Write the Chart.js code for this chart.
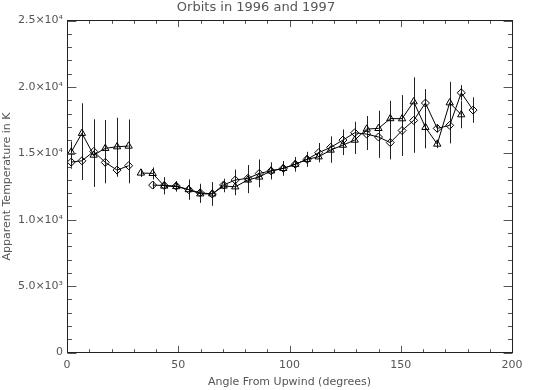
<!DOCTYPE html>
<html><head><meta charset="utf-8">
<script src="https://cdn.jsdelivr.net/npm/chart.js@4/dist/chart.umd.min.js"></script>
<style>html,body{margin:0;padding:0;background:#fff}</style>
</head><body>
<canvas id="c" width="555" height="390" style="width:555px;height:390px;display:block"></canvas>
<script>
// Angle bins (degrees); 30.5 marks the gap in the coverage
const angles = [1.9, 6.7, 12.0, 17.2, 22.5, 27.7, 30.5, 33.2, 38.5, 43.7, 49.1, 54.7, 59.9, 65.3, 70.4, 75.6, 81.3, 86.4, 91.7, 97.2, 102.6, 107.9, 113.1, 118.5, 124.0, 129.3, 134.7, 140.0, 145.3, 150.6, 155.8, 161.1, 166.4, 172.0, 177.2, 182.5];
// Triangle series (K)
const triTemp = [15100, 16510, 14870, 15380, 15500, 15550, null, 13520, 13490, 12540, 12500, 12270, 11950, 11950, 12540, 12480, 13000, 13220, 13680, 13870, 14180, 14550, 14740, 15250, 15620, 16000, 16830, 16880, 17620, 17610, 18890, 16960, 15700, 18810, 17910, null];
const triErr  = [800, 2260, 2400, 2130, 2180, 2000, null, 300, 450, 630, 380, 750, 680, 880, 470, 630, 1000, 600, 630, 540, 540, 560, 380, 960, 750, 1050, 980, 1330, 1340, 1780, 1840, 1580, 300, 1580, 1020, null];
// Diamond series (K)
const diaTemp = [14340, 14440, 15140, 14320, 13740, 14070, null, null, 12610, 12580, 12540, 12270, 12030, 11940, 12620, 12990, 13120, 13490, 13680, 13870, 14180, 14550, 15050, 15450, 16000, 16550, 16450, 16230, 15810, 16720, 17480, 18790, 16880, 17110, 19560, 18260];
const diaErr  = [500, 1450, 2430, 1580, 500, 1330, null, null, 300, 630, 380, 750, 680, 880, 470, 790, 1000, 1050, 630, 540, 540, 560, 730, 830, 800, 830, 1200, 1570, 1270, 1920, 2440, 1050, 300, 1360, 580, 960];

const xMajorTicks = [0, 50, 100, 150, 200];
const xTickLabels = ['0', '50', '100', '150', '200'];
const yMajorTicks = [0, 5000, 10000, 15000, 20000, 25000];
const yTickLabels = ['0', '5.0×10³', '1.0×10⁴', '1.5×10⁴', '2.0×10⁴', '2.5×10⁴'];

const FONT = 'DejaVu Sans';
const TXT = '#555';

const errorBars = {
  id: 'errorBars',
  beforeDatasetsDraw(chart) {
    const {ctx, scales: {x, y}} = chart;
    ctx.save();
    ctx.strokeStyle = '#222';
    ctx.lineWidth = 1;
    chart.data.datasets.forEach(ds => {
      const vals = ds.values, errs = ds.errs;
      for (let i = 0; i < angles.length; i++) {
        if (vals[i] == null || errs[i] == null) continue;
        const px = Math.round(x.getPixelForValue(angles[i])) + 0.5;
        const t = y.getPixelForValue(vals[i] + errs[i]);
        const b = y.getPixelForValue(vals[i] - errs[i]);
        ctx.beginPath(); ctx.moveTo(px, t); ctx.lineTo(px, b); ctx.stroke();
      }
    });
    ctx.restore();
  }
};

const frameTicks = {
  id: 'frameTicks',
  afterDatasetsDraw(chart) {
    const {ctx, chartArea: a, scales: {x, y}} = chart;
    const L = Math.floor(a.left) + 0.5, R = Math.floor(a.right) + 0.5;
    const T = Math.floor(a.top) + 0.5, B = Math.floor(a.bottom) + 0.5;
    ctx.save();
    ctx.lineWidth = 1;
    ctx.strokeStyle = '#555';
    x.ticks.forEach(tk => {
      const v = tk.value;
      const px = Math.round(x.getPixelForValue(v)) + 0.5;
      const len = xMajorTicks.includes(v) ? 6.6 : 3.3;
      ctx.beginPath();
      ctx.moveTo(px, B); ctx.lineTo(px, B - len);
      ctx.moveTo(px, T); ctx.lineTo(px, T + len);
      ctx.stroke();
    });
    y.ticks.forEach(tk => {
      const v = tk.value;
      const py = Math.round(y.getPixelForValue(v)) + 0.5;
      const len = yMajorTicks.includes(v) ? 8.9 : 4.5;
      ctx.beginPath();
      ctx.moveTo(L, py); ctx.lineTo(L + len, py);
      ctx.moveTo(R, py); ctx.lineTo(R - len, py);
      ctx.stroke();
    });
    ctx.strokeStyle = '#222';
    ctx.strokeRect(L, T, R - L, B - T);
    ctx.restore();
  }
};

const mkData = vals => angles.map((a, i) => ({x: a, y: vals[i]}));

new Chart(document.getElementById('c'), {
  type: 'line',
  data: {
    datasets: [
      {
        label: 'triangles', values: triTemp, errs: triErr,
        data: mkData(triTemp),
        borderColor: '#000', borderWidth: 1, tension: 0, fill: false, spanGaps: false,
        pointStyle: 'triangle', pointRadius: 4.2, pointBorderWidth: 1,
        pointBorderColor: '#000', pointBackgroundColor: 'rgba(255,255,255,0)'
      },
      {
        label: 'diamonds', values: diaTemp, errs: diaErr,
        data: mkData(diaTemp),
        borderColor: '#000', borderWidth: 1, tension: 0, fill: false, spanGaps: false,
        pointStyle: 'rectRot', pointRadius: 4, pointBorderWidth: 1,
        pointBorderColor: '#000', pointBackgroundColor: 'rgba(255,255,255,0)'
      }
    ]
  },
  options: {
    responsive: false,
    animation: false,
    devicePixelRatio: 1,
    layout: {padding: {left: 0, right: 43, top: 0, bottom: 0}},
    plugins: {
      legend: {display: false},
      tooltip: {enabled: false},
      title: {
        display: true, text: 'Orbits in 1996 and 1997', color: TXT,
        font: {family: FONT, size: 13, weight: 'normal'},
        padding: {top: 0, bottom: 5}
      }
    },
    scales: {
      x: {
        type: 'linear', min: 0, max: 200,
        grid: {display: false, drawTicks: false, tickLength: 0},
        border: {display: false},
        ticks: {
          stepSize: 10, autoSkip: false, maxRotation: 0, padding: 6,
          color: TXT, font: {family: FONT, size: 11},
          callback: v => { const i = xMajorTicks.indexOf(v); return i >= 0 ? xTickLabels[i] : ''; }
        },
        title: {
          display: true, text: 'Angle From Upwind (degrees)', color: TXT,
          font: {family: FONT, size: 11}, padding: {top: 0, bottom: 1}
        },
        afterFit: s => { s.height = 37.5; s.paddingLeft = 0; s.paddingRight = 0; }
      },
      y: {
        type: 'linear', min: 0, max: 25000,
        grid: {display: false, drawTicks: false, tickLength: 0},
        border: {display: false},
        ticks: {
          stepSize: 1000, autoSkip: false, padding: 4,
          color: TXT, font: {family: FONT, size: 11},
          callback: v => { const i = yMajorTicks.indexOf(v); return i >= 0 ? yTickLabels[i] : ''; }
        },
        title: {
          display: true, text: 'Apparent Temperature in K', color: TXT,
          font: {family: FONT, size: 11}, padding: {top: 1, bottom: 0}
        },
        afterFit: s => { s.width = 67; s.paddingTop = 0; s.paddingBottom = 0; }
      }
    }
  },
  plugins: [errorBars, frameTicks]
});
</script>
</body></html>
